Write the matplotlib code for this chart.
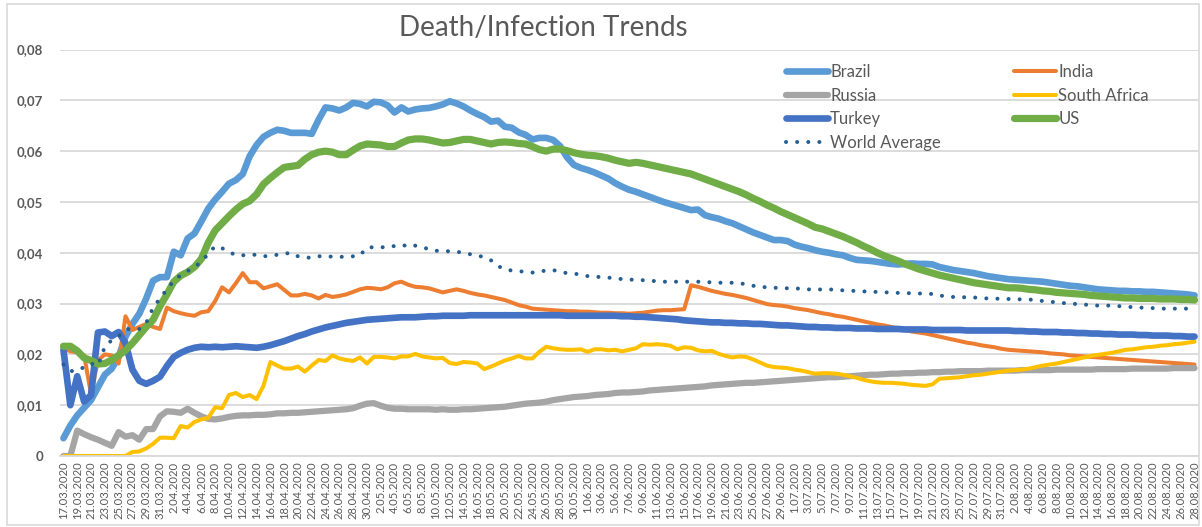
import matplotlib
matplotlib.use("Agg")
import matplotlib.pyplot as plt
from matplotlib.patches import Rectangle
from matplotlib.ticker import FuncFormatter
import pandas as pd

plt.rcParams['font.family'] = ['Lato', 'DejaVu Sans']

start_date = "2020-03-17"

brazil = [0.0035, 0.006, 0.008, 0.0095, 0.011, 0.0135, 0.016, 0.0172, 0.0195, 0.0235,
          0.026, 0.028, 0.031, 0.0345, 0.0352, 0.0352, 0.0402, 0.0395, 0.0428, 0.0438,
          0.0462, 0.0487, 0.0505, 0.052, 0.0536, 0.0543, 0.0555, 0.059, 0.0612, 0.0628,
          0.0636, 0.0642, 0.064, 0.0636, 0.0636, 0.0636, 0.0634, 0.0662, 0.0686, 0.0684,
          0.068, 0.0686, 0.0695, 0.0693, 0.0688, 0.0697, 0.0696, 0.069, 0.0676, 0.0686,
          0.0678, 0.0682, 0.0684, 0.0685, 0.0688, 0.0692, 0.0698, 0.0694, 0.0688, 0.068,
          0.0673, 0.0667, 0.0658, 0.066, 0.0648, 0.0646, 0.0637, 0.0632, 0.0623, 0.0626,
          0.0626, 0.0622, 0.061, 0.0588, 0.0573, 0.0567, 0.0563, 0.0558, 0.0552, 0.0546,
          0.0537, 0.053, 0.0524, 0.052, 0.0515, 0.051, 0.0505, 0.05, 0.0496, 0.0492,
          0.0488, 0.0484, 0.0485, 0.0474, 0.047, 0.0467, 0.0462, 0.0458, 0.0452, 0.0446,
          0.044, 0.0435, 0.043, 0.0425, 0.0425, 0.0423, 0.0416, 0.0412, 0.0409, 0.0405,
          0.0402, 0.04, 0.0397, 0.0395, 0.039, 0.0386, 0.0385, 0.0384, 0.0382, 0.038,
          0.0378, 0.0377, 0.0378, 0.0379, 0.0378, 0.0378, 0.0377, 0.0372, 0.0369, 0.0366,
          0.0364, 0.0362, 0.036, 0.0357, 0.0354, 0.0352, 0.035, 0.0348, 0.0347, 0.0346,
          0.0345, 0.0344, 0.0343, 0.0341, 0.0339, 0.0337, 0.0335, 0.0334, 0.0332, 0.033,
          0.0328, 0.0327, 0.0326, 0.0325, 0.0325, 0.0324, 0.0324, 0.0323, 0.0323, 0.0322,
          0.0321, 0.032, 0.0319, 0.0318, 0.0316]

india = [0.0212, 0.0206, 0.0204, 0.0198, 0.0122, 0.0188, 0.02, 0.0198, 0.0182, 0.0275,
         0.0248, 0.0254, 0.026, 0.0254, 0.025, 0.0292, 0.0285, 0.0281, 0.0278, 0.0276,
         0.0283, 0.0285, 0.0305, 0.0332, 0.0322, 0.034, 0.036, 0.0342, 0.0342, 0.033,
         0.0334, 0.0338, 0.0327, 0.0316, 0.0316, 0.0319, 0.0316, 0.031, 0.0317, 0.0313,
         0.0315, 0.0318, 0.0323, 0.0328, 0.0331, 0.033, 0.0328, 0.0332, 0.034, 0.0343,
         0.0337, 0.0333, 0.0332, 0.033, 0.0326, 0.0322, 0.0325, 0.0328, 0.0325, 0.0321,
         0.0318, 0.0316, 0.0313, 0.031, 0.0307, 0.0302, 0.0297, 0.0294, 0.029, 0.0289,
         0.0288, 0.0287, 0.0286, 0.0285, 0.0285, 0.0284, 0.0284, 0.0283, 0.0282, 0.0282,
         0.0281, 0.0281, 0.028, 0.0281, 0.0282, 0.0284, 0.0286, 0.0287, 0.0287, 0.0288,
         0.0289, 0.0336, 0.0333, 0.0329, 0.0325, 0.0322, 0.0319, 0.0317, 0.0314, 0.0311,
         0.0307, 0.0303, 0.0299, 0.0297, 0.0296, 0.0294, 0.0291, 0.0289, 0.0287, 0.0284,
         0.0281, 0.0279, 0.0276, 0.0274, 0.0271, 0.0268, 0.0265, 0.0262, 0.0259, 0.0257,
         0.0254, 0.0251, 0.0248, 0.0245, 0.0243, 0.0241, 0.0238, 0.0235, 0.0232, 0.0229,
         0.0226, 0.0223, 0.0221, 0.0218, 0.0216, 0.0214, 0.0211, 0.0209, 0.0208, 0.0207,
         0.0206, 0.0205, 0.0204, 0.0202, 0.0201, 0.02, 0.0198, 0.0197, 0.0196, 0.0195,
         0.0194, 0.0193, 0.0192, 0.0191, 0.019, 0.0189, 0.0188, 0.0187, 0.0186, 0.0185,
         0.0184, 0.0183, 0.0182, 0.0181, 0.018]

russia = [0, 0, 0.005, 0.0043, 0.0037, 0.0032, 0.0026, 0.002, 0.0047, 0.0038,
          0.0041, 0.0032, 0.0053, 0.0053, 0.0078, 0.0088, 0.0087, 0.0085, 0.0093, 0.0085,
          0.0078, 0.0073, 0.0072, 0.0074, 0.0077, 0.0079, 0.008, 0.008, 0.0081, 0.0081,
          0.0082, 0.0084, 0.0084, 0.0085, 0.0085, 0.0086, 0.0087, 0.0088, 0.0089, 0.009,
          0.0091, 0.0092, 0.0094, 0.0099, 0.0103, 0.0104, 0.0099, 0.0095, 0.0093, 0.0093,
          0.0092, 0.0092, 0.0092, 0.0092, 0.0091, 0.0092, 0.0091, 0.0091, 0.0092, 0.0092,
          0.0093, 0.0094, 0.0095, 0.0096, 0.0097, 0.0099, 0.0101, 0.0103, 0.0104, 0.0105,
          0.0107, 0.011, 0.0112, 0.0114, 0.0116, 0.0117, 0.0118, 0.012, 0.0121, 0.0122,
          0.0124, 0.0125, 0.0125, 0.0126, 0.0127, 0.0129, 0.013, 0.0131, 0.0132, 0.0133,
          0.0134, 0.0135, 0.0136, 0.0137, 0.0139, 0.014, 0.0141, 0.0142, 0.0143, 0.0144,
          0.0144, 0.0145, 0.0146, 0.0147, 0.0148, 0.0149, 0.015, 0.0151, 0.0152, 0.0153,
          0.0154, 0.0155, 0.0155, 0.0156, 0.0157, 0.0158, 0.0159, 0.016, 0.016, 0.0161,
          0.0162, 0.0162, 0.0163, 0.0163, 0.0164, 0.0164, 0.0165, 0.0165, 0.0166, 0.0166,
          0.0167, 0.0167, 0.0167, 0.0167, 0.0168, 0.0168, 0.0168, 0.0168, 0.0168, 0.0169,
          0.0169, 0.0169, 0.0169, 0.0169, 0.017, 0.017, 0.017, 0.017, 0.017, 0.017,
          0.0171, 0.0171, 0.0171, 0.0171, 0.0171, 0.0172, 0.0172, 0.0172, 0.0172, 0.0172,
          0.0172, 0.0173, 0.0173, 0.0173, 0.0173]

south_africa = [0, 0, 0, 0, 0, 0, 0, 0, 0, 0,
                0.0008, 0.0009, 0.0015, 0.0024, 0.0036, 0.0036, 0.0035, 0.0059, 0.0056, 0.0067,
                0.0072, 0.0075, 0.0096, 0.0094, 0.012, 0.0124, 0.0116, 0.012, 0.0112, 0.0138,
                0.0185, 0.0178, 0.0172, 0.0172, 0.0176, 0.0166, 0.0178, 0.0189, 0.0187, 0.0198,
                0.0192, 0.0189, 0.0187, 0.0194, 0.0182, 0.0195, 0.0195, 0.0194, 0.0192, 0.0196,
                0.0196, 0.0201, 0.0196, 0.0194, 0.0192, 0.0193, 0.0183, 0.0181, 0.0185, 0.0184,
                0.0182, 0.0171, 0.0176, 0.0182, 0.0188, 0.0192, 0.0197, 0.0192, 0.0192, 0.0205,
                0.0215, 0.0212, 0.021, 0.0209, 0.0209, 0.021, 0.0205, 0.021, 0.021, 0.0208,
                0.0209, 0.0206, 0.0209, 0.0212, 0.022, 0.0219, 0.022, 0.0219, 0.0217, 0.021,
                0.0214, 0.0213, 0.0208, 0.0206, 0.0207, 0.0201, 0.0197, 0.0194, 0.0196, 0.0195,
                0.019, 0.0184, 0.0178, 0.0175, 0.0174, 0.0173, 0.017, 0.0168, 0.0165, 0.0162,
                0.0163, 0.0163, 0.0162, 0.016, 0.0157, 0.0154, 0.015, 0.0147, 0.0145, 0.0144,
                0.0144, 0.0143, 0.0142, 0.014, 0.0139, 0.0138, 0.0141, 0.0152, 0.0153, 0.0154,
                0.0155, 0.0157, 0.0159, 0.016, 0.0162, 0.0164, 0.0166, 0.0168, 0.0169, 0.017,
                0.0172, 0.0175, 0.0178, 0.018, 0.0182, 0.0185, 0.0188, 0.0191, 0.0194, 0.0197,
                0.0199, 0.0201, 0.0203, 0.0206, 0.0209, 0.021, 0.0212, 0.0214, 0.0215, 0.0217,
                0.0218, 0.022, 0.0221, 0.0223, 0.0225]

turkey = [0.0209, 0.01, 0.0157, 0.0107, 0.012, 0.0243, 0.0245, 0.0236, 0.0244, 0.0222,
          0.017, 0.0148, 0.0142, 0.0148, 0.0156, 0.0177, 0.0195, 0.0203, 0.0209, 0.0213,
          0.0215, 0.0214, 0.0215, 0.0214, 0.0215, 0.0216, 0.0215, 0.0214, 0.0213, 0.0215,
          0.0218, 0.0222, 0.0226, 0.0231, 0.0236, 0.024, 0.0245, 0.0249, 0.0253, 0.0256,
          0.0259, 0.0262, 0.0264, 0.0266, 0.0268, 0.0269, 0.027, 0.0271, 0.0272, 0.0273,
          0.0273, 0.0273, 0.0274, 0.0275, 0.0275, 0.0276, 0.0276, 0.0276, 0.0276, 0.0277,
          0.0277, 0.0277, 0.0277, 0.0277, 0.0277, 0.0277, 0.0277, 0.0277, 0.0277, 0.0277,
          0.0277, 0.0277, 0.0277, 0.0276, 0.0276, 0.0276, 0.0276, 0.0276, 0.0276, 0.0276,
          0.0276, 0.0275, 0.0275, 0.0274, 0.0274, 0.0273, 0.0272, 0.0271, 0.027, 0.0269,
          0.0267, 0.0266, 0.0265, 0.0264, 0.0263, 0.0263, 0.0262, 0.0262, 0.0261, 0.0261,
          0.026, 0.026, 0.0259, 0.0258, 0.0257, 0.0257, 0.0256, 0.0255, 0.0254, 0.0254,
          0.0253, 0.0253, 0.0252, 0.0252, 0.0252, 0.0251, 0.0251, 0.0251, 0.025, 0.025,
          0.025, 0.025, 0.0249, 0.0249, 0.0249, 0.0249, 0.0248, 0.0248, 0.0248, 0.0248,
          0.0248, 0.0247, 0.0247, 0.0247, 0.0247, 0.0247, 0.0247, 0.0247, 0.0246, 0.0246,
          0.0245, 0.0245, 0.0244, 0.0244, 0.0244, 0.0243, 0.0243, 0.0242, 0.0242, 0.0241,
          0.0241, 0.024, 0.024, 0.0239, 0.0239, 0.0239, 0.0238, 0.0238, 0.0237, 0.0237,
          0.0237, 0.0236, 0.0236, 0.0235, 0.0235]

us = [0.0216, 0.0216, 0.0207, 0.0193, 0.0188, 0.0181, 0.0182, 0.0189, 0.0198, 0.0208,
      0.0222, 0.0238, 0.0254, 0.0268, 0.0295, 0.0318, 0.0343, 0.0355, 0.0362, 0.0372,
      0.0388, 0.042, 0.0444, 0.0458, 0.0472, 0.0485, 0.0496, 0.0502, 0.0515, 0.0535,
      0.0547, 0.0558, 0.0568, 0.057, 0.0572, 0.0584, 0.0593, 0.0598, 0.06, 0.0598,
      0.0593, 0.0593, 0.0602, 0.061, 0.0614, 0.0613, 0.0612, 0.0609, 0.0609, 0.0616,
      0.0622, 0.0624, 0.0624, 0.0622, 0.0619, 0.0616, 0.0617, 0.062, 0.0623, 0.0623,
      0.062, 0.0617, 0.0614, 0.0617, 0.0618, 0.0617, 0.0615, 0.0614, 0.0609, 0.0603,
      0.06, 0.0604, 0.0604, 0.0601, 0.0597, 0.0594, 0.0592, 0.0591, 0.0589, 0.0586,
      0.0582, 0.0579, 0.0576, 0.0578, 0.0576, 0.0573, 0.057, 0.0567, 0.0564, 0.0561,
      0.0558, 0.0555, 0.055, 0.0545, 0.054, 0.0535, 0.053, 0.0525, 0.052, 0.0514,
      0.0507, 0.0501, 0.0494, 0.0488, 0.0481, 0.0475, 0.0469, 0.0463, 0.0457, 0.045,
      0.0447, 0.0442, 0.0437, 0.0432, 0.0426, 0.042, 0.0413, 0.0407, 0.04, 0.0394,
      0.0389, 0.0384, 0.0378, 0.0373, 0.0368, 0.0364, 0.036, 0.0356, 0.0353, 0.035,
      0.0347, 0.0344, 0.0341, 0.0339, 0.0337, 0.0335, 0.0333, 0.0331, 0.0331, 0.033,
      0.0328, 0.0327, 0.0325, 0.0324, 0.0322, 0.0321, 0.032, 0.0319, 0.0318, 0.0316,
      0.0315, 0.0314, 0.0313, 0.0312, 0.0311, 0.0311, 0.031, 0.031, 0.031, 0.0309,
      0.0309, 0.0309, 0.0308, 0.0308, 0.0307]

world_average = [0.018, 0.0167, 0.0168, 0.0175, 0.0182, 0.0178, 0.0215, 0.0228, 0.0236, 0.0248,
                 0.0252, 0.025, 0.0262, 0.0292, 0.031, 0.0328, 0.0345, 0.0356, 0.0364, 0.0372,
                 0.0382, 0.0398, 0.0413, 0.0409, 0.0402, 0.0395, 0.0395, 0.0396, 0.0396, 0.0393,
                 0.0394, 0.0396, 0.0398, 0.04, 0.0393, 0.0391, 0.039, 0.0393, 0.0394, 0.0392,
                 0.0392, 0.0392, 0.0393, 0.0395, 0.041, 0.0411, 0.041, 0.0413, 0.0413, 0.0412,
                 0.0417, 0.0414, 0.0411, 0.0407, 0.0404, 0.0403, 0.0403, 0.0402, 0.04, 0.0397,
                 0.0395, 0.0391, 0.0385, 0.0374, 0.0367, 0.0365, 0.0364, 0.0362, 0.0361, 0.0363,
                 0.0365, 0.0366, 0.0362, 0.036, 0.0359, 0.0357, 0.0354, 0.0353, 0.0352, 0.0351,
                 0.035, 0.0348, 0.0347, 0.0347, 0.0346, 0.0345, 0.0344, 0.0343, 0.0343, 0.0343,
                 0.0343, 0.0343, 0.0343, 0.0342, 0.0342, 0.0341, 0.0341, 0.0341, 0.034, 0.0338,
                 0.0335, 0.0333, 0.0332, 0.0331, 0.0331, 0.033, 0.033, 0.0329, 0.0328, 0.0327,
                 0.0328, 0.0328, 0.0327, 0.0326, 0.0325, 0.0325, 0.0324, 0.0323, 0.0323, 0.0322,
                 0.0322, 0.0321, 0.0321, 0.032, 0.032, 0.0319, 0.0319, 0.0316, 0.0314, 0.0313,
                 0.0313, 0.0312, 0.0312, 0.0311, 0.031, 0.031, 0.0309, 0.0309, 0.0309, 0.0308,
                 0.0308, 0.0307, 0.0305, 0.0304, 0.0302, 0.0301, 0.03, 0.0299, 0.0298, 0.0297,
                 0.0296, 0.0296, 0.0296, 0.0295, 0.0294, 0.0293, 0.0292, 0.0292, 0.0291, 0.029,
                 0.029, 0.029, 0.029, 0.029, 0.029]

dates = pd.date_range(start_date, periods=len(brazil), freq="D")
date_labels = [f"{d.day}.{d.month:02d}.{d.year}" for d in dates]
x = list(range(len(dates)))

W, H = 1202, 527
fig = plt.figure(figsize=(W / 100, H / 100), dpi=100)
fig.patch.set_facecolor("white")
ax = fig.add_axes([60 / W, 1 - 456 / H, 1138 / W, (456 - 49.5) / H])

grid_c = "#d9d9d9"
text_c = "#595959"

series = [
    ("Brazil", brazil, "#5B9BD5", 4.8, "-"),
    ("India", india, "#ED7D31", 2.9, "-"),
    ("Russia", russia, "#A5A5A5", 4.5, "-"),
    ("South Africa", south_africa, "#FFC000", 2.9, "-"),
    ("Turkey", turkey, "#4472C4", 4.8, "-"),
    ("US", us, "#70AD47", 5.2, "-"),
]
handles = {}
for name, vals, col, lw, ls in series:
    (h,) = ax.plot(x, vals, color=col, lw=lw, solid_capstyle="round",
                   solid_joinstyle="round", label=name)
    handles[name] = h
(hw,) = ax.plot(x, world_average, color="#255E91", lw=2.9,
                linestyle=(0, (0.01, 2.75)), dash_capstyle="round", label="World Average")
handles["World Average"] = hw

ax.set_xlim(-0.5, len(x) - 0.5)
ax.set_ylim(0, 0.08)
ax.set_yticks([0, 0.01, 0.02, 0.03, 0.04, 0.05, 0.06, 0.07, 0.08])
ax.yaxis.set_major_formatter(FuncFormatter(lambda v, p: "0" if abs(v) < 1e-9 else f"{v:.2f}".replace(".", ",")))
ax.grid(axis="y", color=grid_c, lw=1.3)
ax.set_axisbelow(True)
for s in ["top", "right", "left"]:
    ax.spines[s].set_visible(False)
ax.spines["bottom"].set_color(grid_c)
ax.spines["bottom"].set_linewidth(1.3)
ax.tick_params(axis="both", length=0)
ax.tick_params(axis="y", labelsize=9.5, labelcolor=text_c, pad=12)
for t in ax.get_yticklabels():
    t.set_fontweight("bold")

ax.set_xticks(x[::2])
ax.set_xticklabels(date_labels[::2], rotation=90, fontsize=8.1, color=text_c)
ax.tick_params(axis="x", pad=4)

fig.text(543.5 / W, 1 - 28 / H, "Death/Infection Trends", ha="center", va="center",
         fontsize=20, color=text_c)

order = ["Brazil", "Russia", "Turkey", "World Average", "India", "South Africa", "US"]
leg = fig.legend([handles[n] for n in order], order, ncol=2, frameon=False,
                 loc="upper left", bbox_to_anchor=(786 / W, 1 - 64 / H),
                 fontsize=12, handlelength=2.5, handletextpad=0.15,
                 columnspacing=4.4, labelspacing=0.46, borderaxespad=0, borderpad=0)
for t in leg.get_texts():
    t.set_color(text_c)

fig.patches.append(Rectangle((7 / W, 1 - 525 / H), (1199 - 7) / W, (525 - 4) / H,
                             transform=fig.transFigure, fill=False,
                             edgecolor=grid_c, lw=1.2))

fig.savefig("out.png", dpi=100)
